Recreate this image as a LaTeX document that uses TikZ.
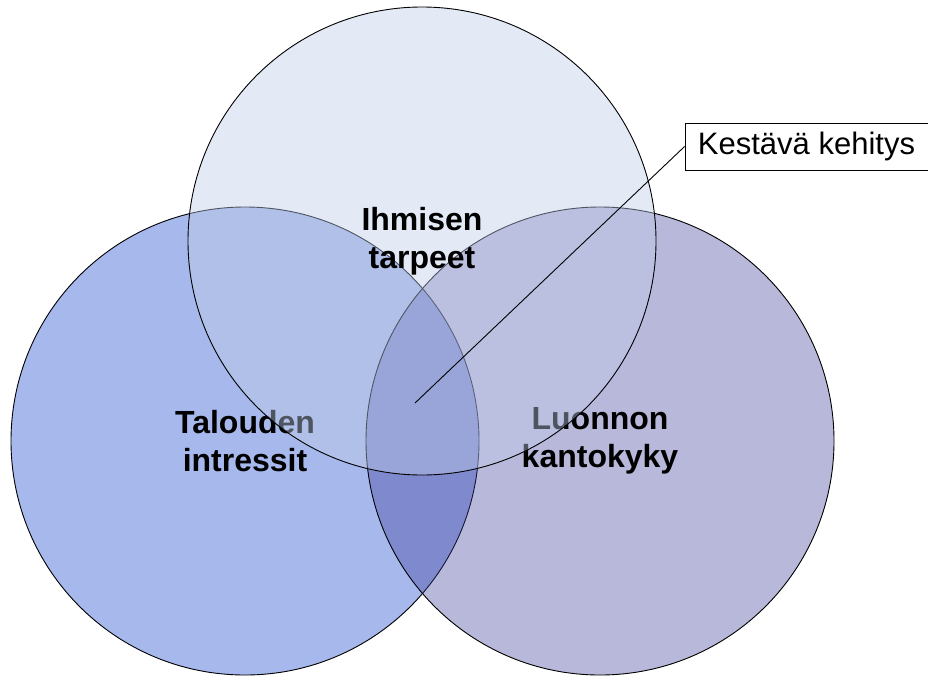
\documentclass[tikz,border=0pt]{standalone}
\usepackage{fontspec}
\setmainfont{Liberation Sans}
\usetikzlibrary{positioning}
\definecolor{talousvari}{RGB}{166,184,236}
\definecolor{luontovari}{RGB}{58,58,153}
\definecolor{ihmisvari}{RGB}{190,204,231}
\tikzset{
	piiri/.style = {circle, draw=black, line width=0.9pt, inner sep=0pt, minimum size=468pt,
		align=center, font=\fontsize{32}{38}\selectfont\bfseries},% ympyra
	piiri_t/.style = {piiri, fill=talousvari},% talous
	piiri_l/.style = {piiri, fill=luontovari, fill opacity=0.36, text opacity=1},% luonto
	piiri_i/.style = {piiri, fill=ihmisvari, fill opacity=0.42, text opacity=1},% ihminen
	selite/.style = {rectangle, draw=black, line width=0.9pt, fill=white, minimum width=243pt,
		minimum height=47pt, inner sep=0pt, font=\fontsize{31}{36}\selectfont}% selite
}
\begin{document}
\begin{tikzpicture}[x=1pt,y=-1pt]
	\useasboundingbox (0,0) rectangle (928,675);
	\node [piiri_t] (talous) at (245,441) {Talouden\\intressit};
	\node [piiri_l] (luonto) at (600,441) {Luonnon\\kantokyky};
	\node [piiri_i] (ihminen) at (422,241) {Ihmisen\\tarpeet};
	\coordinate (keski) at (415,403);
	\node [selite] (kestava) at (806.5,146.5) {Kestävä kehitys};
	\draw [line width=0.9pt] (keski) -- (kestava.west);
\end{tikzpicture}
\end{document}
